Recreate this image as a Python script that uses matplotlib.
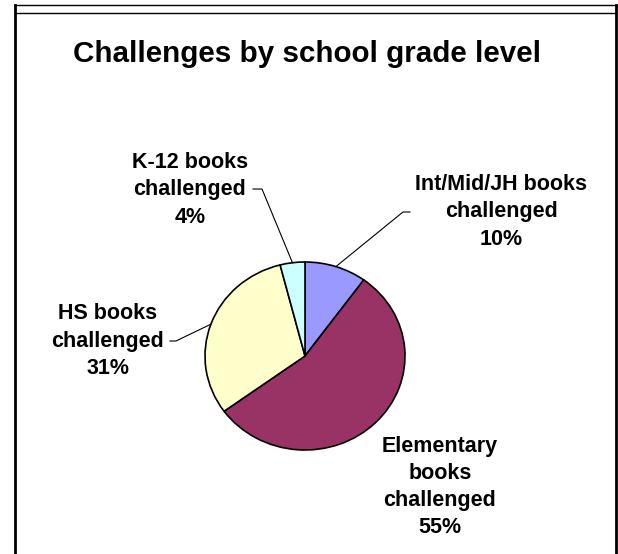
import numpy as np
import matplotlib
matplotlib.use("Agg")
import matplotlib.pyplot as plt
from matplotlib.lines import Line2D

plt.rcParams['font.family'] = ['Liberation Sans', 'DejaVu Sans']

# share of challenges by grade level, clockwise from 12 o'clock
categories = ["Int/Mid/JH books\nchallenged", "Elementary\nbooks\nchallenged",
              "HS books\nchallenged", "K-12 books\nchallenged"]
shares = [10, 55, 31, 4]
colors = ["#9999FF", "#993366", "#FFFFCC", "#CCFFFF"]

W, H = 618, 554
fig = plt.figure(figsize=(W / 100, H / 100), dpi=100)


def fx(x):
    return x / W


def fy(y):
    return 1 - y / H


# pie sits in its own slightly flattened box
ax = fig.add_axes([fx(205), fy(450), 200 / W, 188 / H])
wedges, _ = ax.pie(shares, colors=colors, startangle=90, counterclock=False,
                   wedgeprops=dict(edgecolor="black", linewidth=1.2))
ax.set_aspect("auto")
ax.set_xlim(-1, 1)
ax.set_ylim(-1, 1)
ax.axis("off")

fig.text(fx(307), fy(54), "Challenges by school grade level", ha="center", va="center",
         fontsize=21.3, fontweight="bold")

# label centre, text end of the leader line, elbow of the leader line
label_pos = [(501, 212), (440, 487), (108, 341), (190, 190)]
leader = [((410, 212), (403, 212)), None, ((170, 341), (176, 341)), ((253, 189), (262, 189))]

fig.canvas.draw()
to_fig = fig.transFigure.inverted()
for w, name, val, pos, ld in zip(wedges, categories, shares, label_pos, leader):
    fig.text(fx(pos[0]), fy(pos[1]), f"{name}\n{val}%", ha="center", va="center",
             fontsize=15.5, fontweight="bold", linespacing=1.38)
    if ld is None:
        continue
    mid = np.deg2rad((w.theta1 + w.theta2) / 2)
    ex, ey = to_fig.transform(ax.transData.transform((np.cos(mid), np.sin(mid))))
    (x0, y0), (x1, y1) = ld
    fig.add_artist(Line2D([fx(x0), fx(x1), ex], [fy(y0), fy(y1), ey],
                          color="black", linewidth=0.8))

# chart frame
fig.add_artist(Line2D([fx(15), fx(15)], [fy(4.5), 0], color="black", linewidth=2))
fig.add_artist(Line2D([fx(616), fx(616)], [fy(4.5), 0], color="black", linewidth=2))
fig.add_artist(Line2D([fx(15), fx(616)], [fy(4.5), fy(4.5)], color="black", linewidth=1))
fig.add_artist(Line2D([fx(15), fx(616)], [fy(12.5), fy(12.5)], color="black", linewidth=1))

fig.savefig("out.png", dpi=100)
